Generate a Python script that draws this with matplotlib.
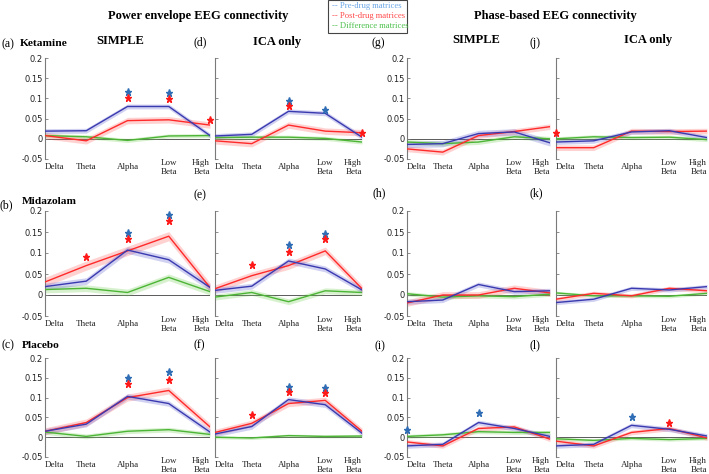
import matplotlib.pyplot as plt
from matplotlib.patches import Rectangle

W, H = 709, 474

bands = ["Delta", "Theta", "Alpha", "Low\nBeta", "High\nBeta"]
yticks = [-0.05, 0, 0.05, 0.1, 0.15, 0.2]
ytick_labels = ["-0.05", "0", "0.05", "0.1", "0.15", "0.2"]

# ---- power envelope, SIMPLE ----
# (a) ketamine
a_pre = [0.019, 0.020, 0.080, 0.080, 0.008]
a_post = [0.008, -0.005, 0.045, 0.047, 0.034]
a_diff = [0.008, 0.005, -0.004, 0.007, 0.008]
a_err = [0.006, 0.008, 0.005]
a_stars = [(2, 0.115, "pre"), (2, 0.101, "post"), (3, 0.113, "pre"),
           (3, 0.098, "post"), (4, 0.047, "post")]
# (b) midazolam
b_pre = [0.020, 0.033, 0.107, 0.084, 0.018]
b_post = [0.031, 0.070, 0.105, 0.140, 0.018]
b_diff = [0.013, 0.016, 0.006, 0.042, 0.008]
b_err = [0.008, 0.011, 0.008]
b_stars = [(1, 0.091, "post"), (2, 0.147, "pre"), (2, 0.134, "post"),
           (3, 0.191, "pre"), (3, 0.176, "post")]
# (c) placebo
c_pre = [0.015, 0.033, 0.103, 0.085, 0.013]
c_post = [0.015, 0.037, 0.100, 0.118, 0.026]
c_diff = [0.013, 0.002, 0.015, 0.019, 0.007]
c_err = [0.007, 0.009, 0.006]
c_stars = [(2, 0.149, "pre"), (2, 0.135, "post"), (3, 0.164, "pre"),
           (3, 0.145, "post")]

# ---- power envelope, ICA only ----
# (d) ketamine
d_pre = [0.007, 0.011, 0.068, 0.063, 0.004]
d_post = [-0.005, -0.012, 0.034, 0.019, 0.015]
d_diff = [0.003, 0.004, 0.004, 0.001, -0.008]
d_err = [0.006, 0.008, 0.005]
d_stars = [(2, 0.094, "pre"), (2, 0.082, "post"), (3, 0.071, "pre"),
           (4, 0.015, "post")]
# (e) midazolam
e_pre = [0.011, 0.021, 0.081, 0.062, 0.012]
e_post = [0.015, 0.046, 0.070, 0.105, 0.015]
e_diff = [-0.005, 0.006, -0.016, 0.010, 0.006]
e_err = [0.007, 0.009, 0.007]
e_stars = [(1, 0.071, "post"), (2, 0.119, "pre"), (2, 0.103, "post"),
           (3, 0.145, "pre"), (3, 0.133, "post")]
# (f) placebo
f_pre = [0.008, 0.027, 0.095, 0.082, 0.010]
f_post = [0.012, 0.035, 0.085, 0.093, 0.015]
f_diff = [0.000, -0.002, 0.004, 0.002, 0.003]
f_err = [0.007, 0.008, 0.004]
f_stars = [(1, 0.056, "post"), (2, 0.127, "pre"), (2, 0.115, "post"),
           (3, 0.123, "pre"), (3, 0.111, "post")]

# ---- phase-based, SIMPLE ----
# (g) ketamine
g_pre = [-0.014, -0.012, 0.013, 0.017, -0.010]
g_post = [-0.025, -0.033, 0.008, 0.018, 0.030]
g_diff = [-0.008, -0.012, -0.008, 0.005, 0.000]
g_err = [0.008, 0.007, 0.006]
g_stars = []
# (h) midazolam
h_pre = [-0.016, -0.012, 0.025, 0.008, 0.010]
h_post = [-0.019, 0.000, 0.000, 0.016, 0.005]
h_diff = [0.003, -0.005, -0.002, -0.004, 0.002]
h_err = [0.006, 0.008, 0.005]
h_stars = []
# (i) placebo
i_pre = [-0.022, -0.018, 0.037, 0.022, 0.002]
i_post = [-0.012, -0.022, 0.022, 0.026, -0.005]
i_diff = [0.002, 0.006, 0.014, 0.012, 0.012]
i_err = [0.006, 0.006, 0.005]
i_stars = [(0, 0.018, "pre"), (2, 0.060, "pre")]

# ---- phase-based, ICA only ----
# (j) ketamine
j_pre = [-0.008, -0.005, 0.017, 0.020, 0.003]
j_post = [-0.022, -0.022, 0.019, 0.018, 0.019]
j_diff = [0.000, 0.005, 0.003, 0.004, -0.002]
j_err = [0.006, 0.007, 0.005]
j_stars = [(0, 0.015, "post")]
# (k) midazolam
k_pre = [-0.018, -0.010, 0.016, 0.012, 0.020]
k_post = [-0.010, 0.004, -0.002, 0.016, 0.010]
k_diff = [0.005, -0.002, -0.002, -0.003, 0.004]
k_err = [0.005, 0.005, 0.004]
k_stars = []
# (l) placebo
l_pre = [-0.022, -0.018, 0.030, 0.020, 0.003]
l_post = [-0.010, -0.022, 0.012, 0.022, -0.002]
l_diff = [-0.004, -0.008, -0.003, -0.006, -0.003]
l_err = [0.006, 0.006, 0.004]
l_stars = [(2, 0.050, "pre"), (3, 0.036, "post")]

panels = {
    "a": (a_pre, a_post, a_diff, a_err, a_stars),
    "b": (b_pre, b_post, b_diff, b_err, b_stars),
    "c": (c_pre, c_post, c_diff, c_err, c_stars),
    "d": (d_pre, d_post, d_diff, d_err, d_stars),
    "e": (e_pre, e_post, e_diff, e_err, e_stars),
    "f": (f_pre, f_post, f_diff, f_err, f_stars),
    "g": (g_pre, g_post, g_diff, g_err, g_stars),
    "h": (h_pre, h_post, h_diff, h_err, h_stars),
    "i": (i_pre, i_post, i_diff, i_err, i_stars),
    "j": (j_pre, j_post, j_diff, j_err, j_stars),
    "k": (k_pre, k_post, k_diff, k_err, k_stars),
    "l": (l_pre, l_post, l_diff, l_err, l_stars),
}

# pixel layout of the grid
col_px = [(45, 210), (215, 362), (407, 550), (556, 707)]
row_px = [(58, 159), (211, 316), (358, 457)]
grid = {"a": (0, 0), "b": (1, 0), "c": (2, 0),
        "d": (0, 1), "e": (1, 1), "f": (2, 1),
        "g": (0, 2), "h": (1, 2), "i": (2, 2),
        "j": (0, 3), "k": (1, 3), "l": (2, 3)}

line_c = {"pre": "#3a3ab0", "post": "#ff2a2a", "diff": "#4cb536"}
fill_c = {"pre": "#5a5ad0", "post": "#ff6060", "diff": "#70d050"}
star_c = {"pre": "#2f6db5", "post": "#ff1a1a"}
serif = "Liberation Serif"

fig = plt.figure(figsize=(W / 100, H / 100), dpi=100)


def px_text(x, y, s, **kw):
    fig.text(x / W, 1 - y / H, s, **kw)


for key, (pre, post, diff, err, stars) in panels.items():
    r, c = grid[key]
    x0, x1 = col_px[c]
    y0, y1 = row_px[r]
    ax = fig.add_axes([x0 / W, 1 - y1 / H, (x1 - x0) / W, (y1 - y0) / H])
    x = list(range(5))
    ax.axhline(0, color="#5a5a5a", lw=0.7, zorder=1)
    for name, vals, e in (("diff", diff, err[2]), ("post", post, err[1]),
                          ("pre", pre, err[0])):
        ax.fill_between(x, [v - e for v in vals], [v + e for v in vals],
                        color=fill_c[name], alpha=0.28, lw=0, zorder=2)
    for name, vals in (("diff", diff), ("post", post), ("pre", pre)):
        ax.plot(x, vals, color=line_c[name], lw=1.0, zorder=3)
    for bi, yv, which in stars:
        ax.plot(bi, yv, marker="*", ms=5.2, color=star_c[which],
                mec=star_c[which], ls="none", clip_on=False, zorder=4)
    ax.set_xlim(0, 4)
    ax.set_ylim(-0.05, 0.2)
    for s in ("top", "right", "bottom"):
        ax.spines[s].set_visible(False)
    ax.spines["left"].set_color("#7a7a7a")
    ax.spines["left"].set_linewidth(0.8)
    ax.set_yticks(yticks)
    if c in (0, 2):
        ax.set_yticklabels(ytick_labels, fontsize=6, color="#222222")
    else:
        ax.set_yticklabels([])
    ax.tick_params(axis="y", direction="in", length=2.5, width=0.6,
                   color="#7a7a7a", pad=1.5)
    ax.set_xticks(x)
    ax.set_xticklabels(bands, fontsize=6.5, family=serif, color="#222222",
                       linespacing=1.1)
    ax.tick_params(axis="x", length=0, pad=6)
    xlbls = ax.get_xticklabels()
    for lbl in xlbls:
        lbl.set_verticalalignment("center")
    xlbls[0].set_horizontalalignment("left")
    xlbls[-1].set_horizontalalignment("right")
    ax.patch.set_alpha(0)

# column headers
px_text(198, 16, "Power envelope EEG connectivity", family=serif,
        fontweight="bold", fontsize=9, ha="center", va="center")
px_text(555, 16, "Phase-based EEG connectivity", family=serif,
        fontweight="bold", fontsize=9, ha="center", va="center")
for cx, cy, s in ((120, 41, "SIMPLE"), (277, 42, "ICA only"),
                  (476, 40, "SIMPLE"), (648, 40, "ICA only")):
    px_text(cx, cy, s, family=serif, fontweight="bold", fontsize=9,
            ha="center", va="center")

# panel letters and drug names
letters = [(1, 44, "(a)"), (193, 42, "(d)"), (372, 43, "(g)"), (530, 43, "(j)"),
           (0, 205, "(b)"), (193, 195, "(e)"), (373, 193, "(h)"), (530, 193, "(k)"),
           (2, 345, "(c)"), (193, 345, "(f)"), (375, 346, "(i)"), (530, 345, "(l)")]
for lx, ly, s in letters:
    px_text(lx, ly, s, family=serif, fontsize=8.5, ha="left", va="center")
for dx, dy, s in ((20, 44, "Ketamine"), (22, 202, "Midazolam"), (22, 345, "Placebo")):
    px_text(dx, dy, s, family=serif, fontweight="bold", fontsize=8.2,
            ha="left", va="center")

# legend box
fig.patches.append(Rectangle((328 / W, 1 - 33 / H), 79 / W, 33 / H,
                             transform=fig.transFigure, facecolor="white",
                             edgecolor="#444444", lw=0.8, zorder=5))
for ty, s, col in ((6, "-- Pre-drug matrices", "#6aa6e6"),
                   (16, "-- Post-drug matrices", "#ff4a4a"),
                   (26, "-- Difference matrices", "#4cc04c")):
    px_text(332, ty, s, family=serif, fontsize=6.2, color=col,
            ha="left", va="center", zorder=6)

fig.savefig("out.png", dpi=100)
